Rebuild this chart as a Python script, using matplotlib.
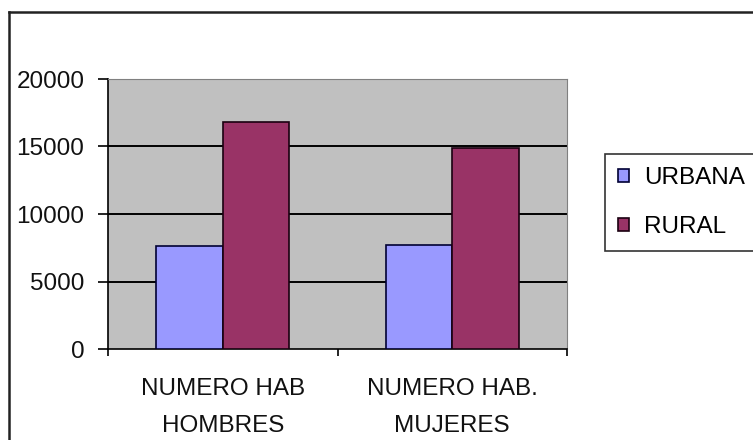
import matplotlib
matplotlib.use("Agg")
import matplotlib.pyplot as plt
from matplotlib.lines import Line2D
import numpy as np

categories = ["NUMERO HAB\nHOMBRES", "NUMERO HAB.\nMUJERES"]
series_names = ["URBANA", "RURAL"]
urbana = [7650, 7700]
rural = [16800, 14900]
yticks = [0, 5000, 10000, 15000, 20000]

plt.rcParams['font.family'] = ['Liberation Sans', 'DejaVu Sans']
FS = 17.5

W, H = 753, 440
fig = plt.figure(figsize=(W/100, H/100), dpi=100)
ax = fig.add_axes([108/W, 1-349/H, (567-108)/W, (349-79)/H])
ax.set_facecolor('#C0C0C0')

x = np.arange(len(categories))
bw = 0.29
ax.bar(x - bw/2, urbana, bw, color='#9999FF', edgecolor='#000033', linewidth=1.2, label=series_names[0], zorder=3)
ax.bar(x + bw/2, rural, bw, color='#993366', edgecolor='#1a0010', linewidth=1.2, label=series_names[1], zorder=3)

ax.set_xlim(-0.5, len(categories) - 0.5)
ax.set_ylim(0, 20000)
ax.set_yticks(yticks)
ax.set_yticklabels([str(v) for v in yticks], fontsize=FS, color='#111111')
ax.tick_params(axis='y', length=7, width=1.2, pad=10, direction='out')

# category boundaries ticks
ax.set_xticks(np.arange(-0.5, len(categories), 1.0))
ax.set_xticklabels([])
ax.tick_params(axis='x', length=5, width=1.2, direction='out')
ax.set_xticks(x, minor=True)
ax.set_xticklabels(categories, minor=True, fontsize=FS, color='#111111', linespacing=1.85)
ax.tick_params(axis='x', which='minor', length=0, pad=21)

for v in yticks[1:-1]:
    ax.axhline(v, color='black', linewidth=1.4, zorder=1)

ax.spines['left'].set_color('black')
ax.spines['left'].set_linewidth(1.2)
ax.spines['bottom'].set_color('black')
ax.spines['bottom'].set_linewidth(1.2)
ax.spines['top'].set_color('#808080')
ax.spines['right'].set_color('#808080')

leg = fig.legend(loc='upper left', bbox_to_anchor=(605/W, 1-154/H), fontsize=FS,
                 handlelength=0.45, handleheight=0.45, handletextpad=0.6,
                 labelspacing=1.1, borderpad=0.55, borderaxespad=0,
                 fancybox=False, framealpha=1, edgecolor='#333333')
leg.get_frame().set_linewidth(1.2)

# outer chart frame (top and left)
fig.add_artist(Line2D([8.5/W, 8.5/W], [0, 1-12/H], transform=fig.transFigure, color='#222222', linewidth=1.8))
fig.add_artist(Line2D([8.5/W, 1], [1-12/H, 1-12/H], transform=fig.transFigure, color='#222222', linewidth=1.8))

fig.savefig('out.png', dpi=100)
